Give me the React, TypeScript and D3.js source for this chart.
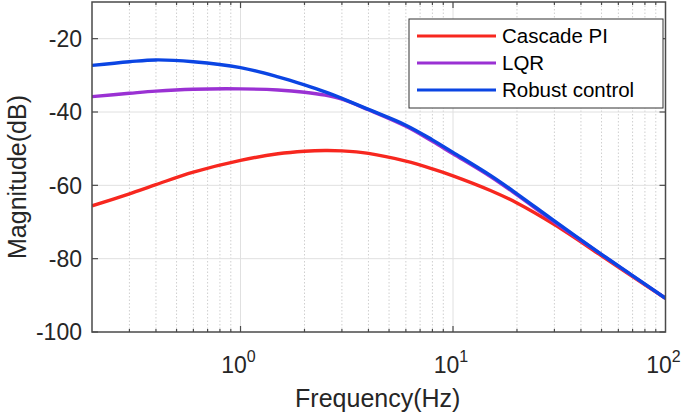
import React, { useRef, useEffect } from "react";
import { select, scaleLog, scaleLinear, line, curveCatmullRom } from "d3";

// frequency samples (Hz) and magnitudes (dB)
const freqs = [0.2, 0.3, 0.4, 0.6, 1, 1.5, 2, 2.5, 3, 4, 6, 8, 10, 15, 20, 30, 50, 70, 100];
const cascadePI = [-65.6, -62.3, -59.8, -56.4, -53.2, -51.4, -50.7, -50.5, -50.6, -51.3, -53.4, -55.5, -57.4, -61.4, -64.8, -70.7, -79.2, -84.9, -90.8];
const lqr = [-35.8, -34.9, -34.3, -33.8, -33.7, -34.0, -34.6, -35.4, -36.5, -39.4, -43.9, -48.0, -51.4, -57.6, -62.6, -70.0, -78.9, -84.7, -90.8];
const robust = [-27.3, -26.3, -25.8, -26.3, -27.9, -30.4, -32.6, -34.5, -36.3, -39.3, -43.6, -47.6, -51.0, -57.3, -62.3, -69.7, -78.8, -84.6, -90.8];

const seriesNames = ["Cascade PI", "LQR", "Robust control"];
const seriesColors = ["#f7271f", "#9a31d3", "#0b45e3"];
const yTicks = [-100, -80, -60, -40, -20];
const xDecades = [0, 1, 2];

const W = 685;
const H = 415;
const left = 92;
const right = 665.5;
const top = 2;
const bottom = 332;

function App() {
    const svgRef = useRef<SVGSVGElement>(null);

    useEffect(() => {
        const svg = select(svgRef.current);
        svg.selectAll("*").remove();

        const x = scaleLog().domain([0.2, 100]).range([left, right]);
        const y = scaleLinear().domain([-100, -10]).range([bottom, top]);

        // minor grid (2..9 per decade)
        const minor: number[] = [];
        [-1, 0, 1].forEach(d => {
            for (let k = 2; k <= 9; k++) {
                const v = k * Math.pow(10, d);
                if (v > 0.2 && v < 100) minor.push(v);
            }
        });
        const g = svg.append("g");

        g.selectAll(".minor-grid")
            .data(minor)
            .join("line")
            .attr("x1", d => x(d)).attr("x2", d => x(d))
            .attr("y1", top).attr("y2", bottom)
            .attr("stroke", "#cfcfcf")
            .attr("stroke-width", 1)
            .attr("stroke-dasharray", "1.5,2");

        g.selectAll(".major-x")
            .data([1, 10])
            .join("line")
            .attr("x1", d => x(d)).attr("x2", d => x(d))
            .attr("y1", top).attr("y2", bottom)
            .attr("stroke", "#e0e0e0")
            .attr("stroke-width", 1);

        g.selectAll(".major-y")
            .data(yTicks.filter(v => v > -100 && v < -10))
            .join("line")
            .attr("x1", left).attr("x2", right)
            .attr("y1", d => y(d)).attr("y2", d => y(d))
            .attr("stroke", "#e0e0e0")
            .attr("stroke-width", 1);

        // curves
        const series = [cascadePI, lqr, robust];
        const myLine = line<number>()
            .x((v, i) => x(freqs[i]))
            .y(v => y(v))
            .curve(curveCatmullRom.alpha(0.5));

        svg.append("defs").append("clipPath").attr("id", "plotclip")
            .append("rect").attr("x", left).attr("y", top)
            .attr("width", right - left).attr("height", bottom - top);

        svg.append("g").attr("clip-path", "url(#plotclip)")
            .selectAll("path")
            .data(series)
            .join("path")
            .attr("d", d => myLine(d))
            .attr("fill", "none")
            .attr("stroke", (d, i) => seriesColors[i])
            .attr("stroke-width", 3.4)
            .attr("stroke-linejoin", "round");

        // box and ticks
        const axisColor = "#4a4a4a";
        svg.append("rect")
            .attr("x", left).attr("y", top)
            .attr("width", right - left).attr("height", bottom - top)
            .attr("fill", "none")
            .attr("stroke", axisColor)
            .attr("stroke-width", 1.5);

        const tk = svg.append("g").attr("stroke", axisColor).attr("stroke-width", 1.2);
        yTicks.forEach(v => {
            tk.append("line").attr("x1", left).attr("x2", left + 6).attr("y1", y(v)).attr("y2", y(v));
            tk.append("line").attr("x1", right - 6).attr("x2", right).attr("y1", y(v)).attr("y2", y(v));
        });
        [1, 10].forEach(v => {
            tk.append("line").attr("x1", x(v)).attr("x2", x(v)).attr("y1", bottom).attr("y2", bottom - 6);
            tk.append("line").attr("x1", x(v)).attr("x2", x(v)).attr("y1", top).attr("y2", top + 6);
        });
        minor.forEach(v => {
            tk.append("line").attr("x1", x(v)).attr("x2", x(v)).attr("y1", bottom).attr("y2", bottom - 3);
            tk.append("line").attr("x1", x(v)).attr("x2", x(v)).attr("y1", top).attr("y2", top + 3);
        });

        const font = "'Liberation Sans', Arial, sans-serif";
        const txt = "#262626";

        svg.append("g").selectAll("text")
            .data(yTicks)
            .join("text")
            .attr("x", left - 10)
            .attr("y", d => y(d))
            .attr("dy", "0.36em")
            .attr("text-anchor", "end")
            .attr("font-family", font)
            .attr("font-size", 23)
            .attr("fill", txt)
            .text(d => d);

        const xl = svg.append("g").selectAll("text")
            .data(xDecades)
            .join("text")
            .attr("x", d => x(Math.pow(10, d)) - 2)
            .attr("y", 373)
            .attr("text-anchor", "middle")
            .attr("font-family", font)
            .attr("font-size", 23)
            .attr("fill", txt);
        xl.append("tspan").text("10");
        xl.append("tspan").attr("dy", -11).attr("font-size", 16).text(d => d);

        svg.append("text")
            .attr("x", (left + right) / 2 - 1)
            .attr("y", 407)
            .attr("text-anchor", "middle")
            .attr("font-family", font)
            .attr("font-size", 25)
            .attr("fill", txt)
            .text("Frequency(Hz)");

        svg.append("text")
            .attr("transform", `translate(26,${(top + bottom) / 2 + 10}) rotate(-90)`)
            .attr("text-anchor", "middle")
            .attr("font-family", font)
            .attr("font-size", 25)
            .attr("fill", txt)
            .text("Magnitude(dB)");

        // legend
        const lg = svg.append("g");
        lg.append("rect")
            .attr("x", 409).attr("y", 19)
            .attr("width", 254).attr("height", 89)
            .attr("fill", "white")
            .attr("stroke", "#333")
            .attr("stroke-width", 1);
        seriesNames.forEach((name, i) => {
            const ly = 36 + i * 27;
            lg.append("line")
                .attr("x1", 417).attr("x2", 496)
                .attr("y1", ly).attr("y2", ly)
                .attr("stroke", seriesColors[i])
                .attr("stroke-width", 3.2);
            lg.append("text")
                .attr("x", 502).attr("y", ly)
                .attr("dy", "0.36em")
                .attr("font-family", font)
                .attr("font-size", 20.5)
                .attr("fill", "#000")
                .text(name);
        });
    }, []);

    return (
        <svg
            ref={svgRef}
            width={W}
            height={H}
            style={{ position: "absolute", left: 0, top: 0, background: "white" }}
        />
    );
}

export default App;
